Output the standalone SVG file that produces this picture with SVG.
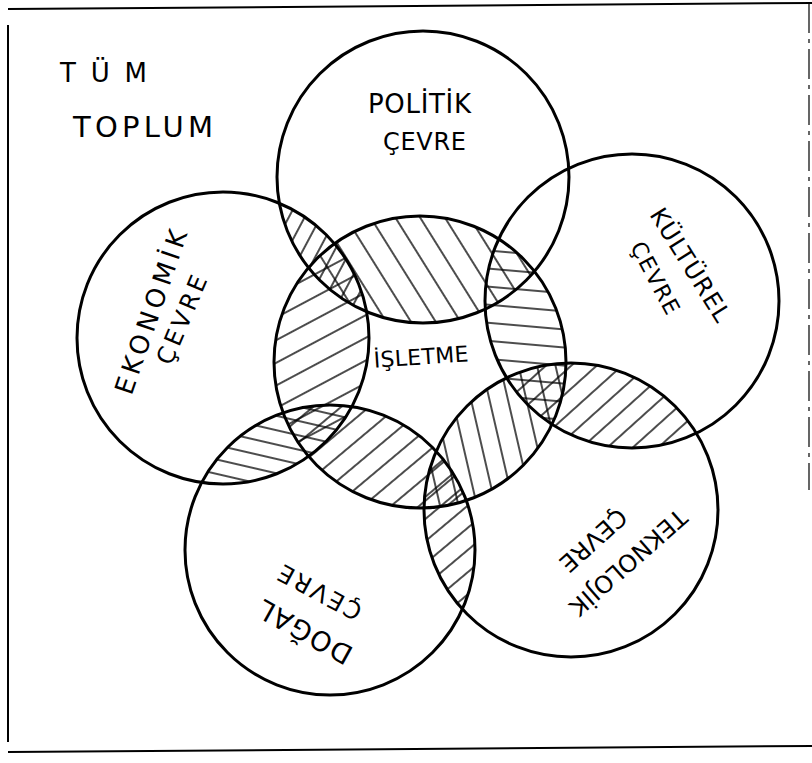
<svg xmlns="http://www.w3.org/2000/svg" width="812" height="763" viewBox="0 0 812 763">
<style>
.c{fill:none;stroke:#000;stroke-width:3}
.hl{stroke:#000;stroke-width:1.4}
.f{stroke:#000;stroke-width:2;fill:none}
.t{font-family:"DejaVu Sans","Liberation Sans",sans-serif;fill:#000;text-anchor:middle;dominant-baseline:central}
.s{font-family:"DejaVu Sans","Liberation Sans",sans-serif;fill:#000}
</style>
<defs>
<clipPath id="cP"><circle cx="423" cy="177" r="146"/></clipPath>
<clipPath id="cK"><circle cx="632" cy="301" r="147"/></clipPath>
<clipPath id="cE"><circle cx="223" cy="338" r="146"/></clipPath>
<clipPath id="cI"><circle cx="420" cy="362" r="146"/></clipPath>
<clipPath id="cD"><circle cx="330" cy="550" r="145"/></clipPath>
<clipPath id="cT"><circle cx="571" cy="510" r="147"/></clipPath>
<pattern id="hPI" patternUnits="userSpaceOnUse" width="21" height="21" patternTransform="rotate(-32)"><line class="hl" x1="10" y1="-1" x2="10" y2="22"/></pattern>
<pattern id="hEI" patternUnits="userSpaceOnUse" width="20" height="20" patternTransform="rotate(62)"><line class="hl" x1="10" y1="-1" x2="10" y2="21"/></pattern>
<pattern id="hKI" patternUnits="userSpaceOnUse" width="18" height="18" patternTransform="rotate(-85)"><line class="hl" x1="9" y1="-1" x2="9" y2="19"/></pattern>
<pattern id="hTI" patternUnits="userSpaceOnUse" width="18" height="18" patternTransform="rotate(-13)"><line class="hl" x1="9" y1="-1" x2="9" y2="19"/></pattern>
<pattern id="hDI" patternUnits="userSpaceOnUse" width="18" height="18" patternTransform="rotate(50)"><line class="hl" x1="9" y1="-1" x2="9" y2="19"/></pattern>
<pattern id="hPE" patternUnits="userSpaceOnUse" width="14" height="14" patternTransform="rotate(28)"><line class="hl" x1="7" y1="-1" x2="7" y2="15"/></pattern>
<pattern id="hKT" patternUnits="userSpaceOnUse" width="17" height="17" patternTransform="rotate(48)"><line class="hl" x1="8" y1="-1" x2="8" y2="18"/></pattern>
<pattern id="hTD" patternUnits="userSpaceOnUse" width="17" height="17" patternTransform="rotate(50)"><line class="hl" x1="8" y1="-1" x2="8" y2="18"/></pattern>
<pattern id="hED" patternUnits="userSpaceOnUse" width="14" height="14" patternTransform="rotate(-77)"><line class="hl" x1="7" y1="-1" x2="7" y2="15"/></pattern>
</defs>

<g id="frame">
<line class="f" x1="8" y1="9" x2="812" y2="3"/>
<line class="f" x1="8" y1="25" x2="8" y2="742"/>
<line class="f" x1="8" y1="752" x2="812" y2="746"/>
<line x1="809" y1="3" x2="809" y2="490" stroke="#000" stroke-width="1.2" stroke-dasharray="30 6 4 6"/>
</g>

<g id="hatching">
<g clip-path="url(#cI)"><rect width="812" height="763" fill="url(#hPI)" clip-path="url(#cP)"/></g>
<g clip-path="url(#cI)"><rect width="812" height="763" fill="url(#hEI)" clip-path="url(#cE)"/></g>
<g clip-path="url(#cI)"><rect width="812" height="763" fill="url(#hKI)" clip-path="url(#cK)"/></g>
<g clip-path="url(#cI)"><rect width="812" height="763" fill="url(#hTI)" clip-path="url(#cT)"/></g>
<g clip-path="url(#cI)"><rect width="812" height="763" fill="url(#hDI)" clip-path="url(#cD)"/></g>
<g clip-path="url(#cP)"><rect width="812" height="763" fill="url(#hPE)" clip-path="url(#cE)"/></g>
<g clip-path="url(#cK)"><rect width="812" height="763" fill="url(#hKT)" clip-path="url(#cT)"/></g>
<g clip-path="url(#cT)"><rect width="812" height="763" fill="url(#hTD)" clip-path="url(#cD)"/></g>
<g clip-path="url(#cE)"><rect width="812" height="763" fill="url(#hED)" clip-path="url(#cD)"/></g>
</g>

<g id="tum-toplum">
<text class="s" x="60" y="82" font-size="26" textLength="87" lengthAdjust="spacing">TÜM</text>
<text class="s" x="73" y="137" font-size="29" textLength="140" lengthAdjust="spacing">TOPLUM</text>
</g>

<g id="politik">
<circle class="c" cx="423" cy="177" r="146"/>
<text class="s" x="368" y="113" font-size="26" textLength="103" lengthAdjust="spacing">POLİTİK</text>
<text class="s" x="383" y="150" font-size="24" textLength="83" lengthAdjust="spacing">ÇEVRE</text>
</g>

<g id="kulturel">
<circle class="c" cx="632" cy="301" r="147"/>
<text class="t" font-size="24" textLength="129" lengthAdjust="spacing" transform="translate(690,265) rotate(58)">KÜLTÜREL</text>
<text class="t" font-size="22" textLength="79" lengthAdjust="spacing" transform="translate(655,278) rotate(62)">ÇEVRE</text>
</g>

<g id="ekonomik">
<circle class="c" cx="223" cy="338" r="146"/>
<text class="t" font-size="26" textLength="172" lengthAdjust="spacing" transform="translate(151,312) rotate(-71)">EKONOMİK</text>
<text class="t" font-size="24" textLength="94" lengthAdjust="spacing" transform="translate(182,320) rotate(-67)">ÇEVRE</text>
</g>

<g id="isletme">
<circle class="c" cx="420" cy="362" r="146"/>
<text class="t" font-size="22" textLength="95" lengthAdjust="spacing" transform="translate(421,357) rotate(-4)">İŞLETME</text>
</g>

<g id="dogal">
<circle class="c" cx="330" cy="550" r="145"/>
<text class="t" font-size="27" textLength="103" lengthAdjust="spacing" transform="translate(305,632) rotate(209)">DOĞAL</text>
<text class="t" font-size="24" textLength="91" lengthAdjust="spacing" transform="translate(320,592) rotate(208)">ÇEVRE</text>
</g>

<g id="teknolojik">
<circle class="c" cx="571" cy="510" r="147"/>
<text class="t" font-size="24" textLength="147" lengthAdjust="spacing" transform="translate(628,562) rotate(138.6)">TEKNOLOJİK</text>
<text class="t" font-size="24" textLength="81" lengthAdjust="spacing" transform="translate(593,540) rotate(138)">ÇEVRE</text>
</g>
</svg>
